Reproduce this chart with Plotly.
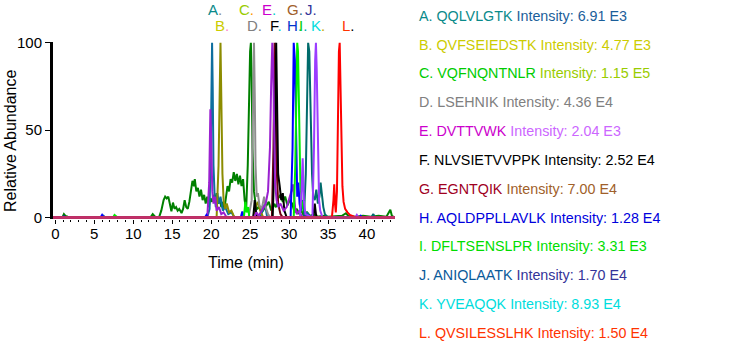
import plotly.graph_objects as go

# ---------------- data (time in min, relative abundance) ----------------
SERIES_NAMES = ["C", "A", "B", "D", "G", "F", "E", "H", "I", "J", "K", "L"]
SERIES_COLORS = {
    "A": "#0e6e9e", "B": "#8c8c00", "C": "#008000", "D": "#8f8f8f",
    "E": "#9a20d0", "F": "#000000", "G": "#6e0012", "H": "#0000ff",
    "I": "#00ee00", "J": "#006b6b", "K": "#9b3dff", "L": "#ff0000",
}
BASELINE_COLOR = "#c2306a"

C_T = [-0.3, 0.9, 1.1, 1.3, 1.6, 2.0, 12.2, 12.5, 12.8, 13.3, 13.6, 13.9, 14.1, 14.3, 14.5, 14.7, 14.9,
       15.1, 15.3, 15.5, 15.7, 15.9, 16.2, 16.4, 16.6, 16.8, 17.0, 17.2, 17.4, 17.6, 17.8, 17.9, 18.1,
       18.3, 18.5, 18.7, 18.9, 19.1, 19.3, 19.5, 19.7, 19.9, 20.1, 20.3, 20.5, 20.7, 20.9, 21.1, 21.3,
       21.5, 21.7, 21.9, 22.1, 22.3, 22.5, 22.7, 22.9, 23.1, 23.3, 23.5, 23.7, 23.9, 24.1, 24.3, 24.5,
       24.7, 24.85, 25.0, 25.1, 25.2, 25.3, 25.5, 25.7, 25.9, 26.2, 26.5, 26.8, 27.1, 27.4, 27.7, 28.0,
       28.3, 28.6, 28.9, 29.2, 29.5, 29.8, 30.1, 30.4, 30.7, 31.0, 31.3, 31.6, 31.9, 32.3, 32.7, 33.2,
       33.6, 34.5, 35.0, 36.8, 37.3, 37.6, 38.5, 39.5, 40.5, 41.5, 42.5, 43.0, 43.2, 43.6]
C_Y = [0, 0, 2, 1, 0.5, 0, 0, 2, 0.5, 0, 4, 10, 12, 11, 12, 7, 3.6,
       8.6, 5, 6, 4, 5, 2.6, 5, 10, 6, 5, 9, 14, 21, 18, 22, 15,
       17, 12, 16, 10, 13, 8, 12, 6, 11, 9, 13, 10, 14, 8, 11, 6,
       9, 5, 12, 18, 15, 22, 20, 26, 21, 25, 19, 24, 18, 22, 10, 5,
       30, 70, 95, 100, 80, 40, 15, 8, 5, 6, 3, 5, 7, 9, 4, 8,
       6, 11, 13, 9, 12, 7, 10, 8, 3, 5, 2, 4, 1, 3, 1, 2,
       0.5, 1, 0.5, 1, 2.5, 1, 0.5, 1, 0.5, 1, 0.5, 4.5, 1, 0]

A_PTS = [(-0.3, 0), (6.0, 0), (6.2, 1), (6.4, 0), (19.5, 0), (19.8, 5), (19.95, 40), (20.05, 90),
         (20.12, 100), (20.2, 75), (20.3, 30), (20.45, 12), (20.6, 6), (20.8, 14), (21.0, 8), (21.2, 12),
         (21.5, 4), (21.8, 6), (22.2, 2), (22.6, 3), (23.0, 0), (26.3, 0), (26.6, 4), (26.9, 8),
         (27.2, 0), (32.0, 0), (32.3, 3), (32.6, 1), (32.9, 0), (40.6, 0), (40.8, 2), (41.0, 0), (43.6, 0)]
B_PTS = [(-0.3, 0), (20.7, 0), (20.95, 30), (21.1, 80), (21.2, 100), (21.3, 70), (21.45, 25),
         (21.6, 10), (21.8, 5), (22.0, 8), (22.3, 3), (22.6, 4), (23.0, 0), (25.4, 0), (25.7, 6),
         (26.0, 9), (26.3, 4), (26.7, 0), (43.6, 0)]
D_PTS = [(-0.3, 0), (24.8, 0), (25.2, 10), (25.35, 60), (25.5, 100), (25.6, 70), (25.7, 30),
         (25.85, 12), (26.0, 14), (26.2, 7), (26.5, 5), (26.8, 12), (27.0, 6), (27.3, 2), (27.6, 0), (43.6, 0)]
E_PTS = [(-0.3, 0), (19.5, 0), (19.75, 20), (19.9, 62), (20.0, 45), (20.15, 15), (20.3, 8), (20.5, 12),
         (20.7, 4), (21.0, 6), (21.3, 2), (21.6, 3), (22.0, 0), (25.5, 0), (25.8, 3), (26.1, 1),
         (26.5, 4), (27.0, 8), (27.3, 15), (27.55, 40), (27.7, 75), (27.85, 100), (27.95, 90),
         (28.05, 60), (28.2, 20), (28.4, 10), (28.6, 6), (28.9, 8), (29.3, 4), (29.7, 6), (30.0, 10),
         (30.3, 15), (30.5, 19), (30.65, 12), (30.8, 5), (31.0, 2), (31.3, 4), (31.6, 1), (32.0, 0), (43.6, 0)]
F_PTS = [(-0.3, 0), (25.4, 0), (25.6, 10), (25.8, 2), (26.0, 0), (27.9, 0), (28.1, 30), (28.25, 90),
         (28.35, 100), (28.45, 70), (28.6, 25), (28.8, 18), (29.0, 10), (29.2, 14), (29.4, 4), (29.7, 0),
         (33.1, 0), (33.3, 8), (33.45, 2), (33.6, 0), (43.6, 0)]
G_PTS = [(-0.3, 0), (27.8, 0), (28.0, 40), (28.15, 100), (28.25, 85), (28.4, 30), (28.6, 8),
         (28.9, 2), (29.2, 0), (43.6, 0)]
H_PTS = [(-0.3, 0), (1.0, 0), (1.1, 1), (1.2, 0), (5.8, 0), (6.0, 1.5), (6.2, 0), (19.2, 0), (19.4, 1.5),
         (19.6, 0), (23.8, 0), (24.0, 3.5), (24.2, 0), (30.2, 0), (30.45, 40), (30.6, 100), (30.75, 90),
         (30.9, 40), (31.05, 12), (31.2, 20), (31.35, 8), (31.5, 4), (31.8, 10), (32.0, 2), (32.4, 0),
         (39.0, 0), (39.2, 1), (39.4, 0), (43.6, 0)]
I_PTS = [(-0.3, 0), (7.4, 0), (7.6, 1.5), (7.8, 0.5), (8.0, 0), (24.2, 0), (24.4, 9), (24.55, 3),
         (24.75, 6), (24.9, 0), (30.6, 0), (30.8, 30), (30.95, 80), (31.05, 100), (31.15, 95),
         (31.3, 50), (31.45, 20), (31.6, 10), (31.8, 4), (32.0, 0), (43.6, 0)]
J_PTS = [(-0.3, 0), (31.9, 0), (32.15, 25), (32.3, 60), (32.45, 100), (32.6, 95), (32.7, 70),
         (32.8, 40), (32.95, 25), (33.1, 12), (33.3, 10), (33.5, 16), (33.7, 8), (33.9, 12),
         (34.05, 20), (34.2, 14), (34.4, 6), (34.6, 2), (35.0, 0), (40.6, 0), (40.8, 2), (41.0, 0), (43.6, 0)]
K_PTS = [(-0.3, 0), (31.4, 0), (31.6, 15), (31.75, 34), (31.9, 10), (32.1, 2), (33.0, 0), (33.2, 40),
         (33.35, 90), (33.45, 100), (33.55, 85), (33.7, 35), (33.85, 10), (34.0, 4), (34.3, 0),
         (38.5, 0), (38.7, 1.5), (38.9, 0), (43.6, 0)]
L_PTS = [(-0.3, 0), (35.5, 0), (35.7, 10), (35.8, 19), (35.9, 8), (36.0, 3), (36.15, 15), (36.3, 70),
         (36.4, 95), (36.5, 100), (36.6, 80), (36.7, 45), (36.85, 18), (37.0, 9), (37.2, 5), (37.5, 3),
         (37.8, 1.5), (38.2, 0.8), (38.6, 0), (43.6, 0)]

# Peak labels above the plot: (letter, letter colour, dot colour, row, left pixel)
PEAK_LABELS = [
    ("A", "#0a8a8a", "#8a8a8a", 0, 206), ("C", "#99cc00", "#ff9900", 0, 237),
    ("E", "#cc00cc", "#00cccc", 0, 260), ("G", "#a0602a", "#2a6a8a", 0, 285),
    ("J", "#333399", "#333399", 0, 303),
    ("B", "#cccc00", "#ff88cc", 1, 213), ("D", "#808080", "#808080", 1, 245),
    ("F", "#000000", "#00cccc", 1, 268), ("H", "#0033cc", "#00cccc", 1, 285),
    ("I", "#00cc00", "#00aaaa", 1, 297), ("K", "#00dddd", "#ccaa00", 1, 309),
    ("L", "#ff3300", "#000000", 1, 340),
]

# Side legend: (letter, peptide, intensity, peptide colour, intensity colour)
LEGEND_ROWS = [
    ("A", "QQLVLGTK", "6.91 E3", "#0a8a8a", "#1a5e9a"),
    ("B", "QVFSEIEDSTK", "4.77 E3", "#cccc00", "#cccc00"),
    ("C", "VQFNQNTNLR", "1.15 E5", "#00cc00", "#99cc00"),
    ("D", "LSEHNIK", "4.36 E4", "#808080", "#808080"),
    ("E", "DVTTVWK", "2.04 E3", "#cc00cc", "#cc66ff"),
    ("F", "NLVSIETVVPPK", "2.52 E4", "#000000", "#000000"),
    ("G", "EGNTQIK", "7.00 E4", "#a0001e", "#a0602a"),
    ("H", "AQLDPPLLAVLK", "1.28 E4", "#0000dd", "#0000dd"),
    ("I", "DFLTSENSLPR", "3.31 E3", "#00dd00", "#00dd00"),
    ("J", "ANIQLAATK", "1.70 E4", "#0a5a9a", "#333399"),
    ("K", "YVEAQQK", "8.93 E4", "#00dddd", "#00dddd"),
    ("L", "QVSILESSLHK", "1.50 E4", "#ff3300", "#ff3300"),
]

X_TICKS = [0, 5, 10, 15, 20, 25, 30, 35, 40]
Y_TICKS = [0, 50, 100]

# ---------------- layout geometry ----------------
W, H = 743, 351
PL, PR, PT, PB = 53, 395, 42, 219  # plot area in pixels
FONT = "Arial, 'Liberation Sans', sans-serif"


def px(x):
    return (x - PL) / (PR - PL)


def py(y):
    return (PB - y) / (PB - PT)


series = {"C": list(zip(C_T, C_Y)), "A": A_PTS, "B": B_PTS, "D": D_PTS, "E": E_PTS, "F": F_PTS,
          "G": G_PTS, "H": H_PTS, "I": I_PTS, "J": J_PTS, "K": K_PTS, "L": L_PTS}

fig = go.Figure()
for name in SERIES_NAMES:
    pts = series[name]
    fig.add_trace(go.Scatter(
        x=[p[0] for p in pts], y=[p[1] for p in pts], mode="lines",
        line=dict(color=SERIES_COLORS[name], width=2), hoverinfo="skip", showlegend=False))

fig.add_trace(go.Scatter(x=[-0.3, 43.6], y=[0, 0], mode="lines",
                         line=dict(color=BASELINE_COLOR, width=2.5), hoverinfo="skip", showlegend=False))

annotations = []
for letter, lc, dc, row, left in PEAK_LABELS:
    annotations.append(dict(
        xref="paper", yref="paper", x=px(left), y=py(9 if row == 0 else 25.5),
        xanchor="left", yanchor="middle", showarrow=False,
        text=f'<span style="color:{lc}">{letter}</span><span style="color:{dc}">.</span>',
        font=dict(family=FONT, size=15)))

for i, (letter, pep, inten, pc, ic) in enumerate(LEGEND_ROWS):
    annotations.append(dict(
        xref="paper", yref="paper", x=px(417), y=py(15.7 + i * 28.84),
        xanchor="left", yanchor="middle", showarrow=False,
        text=f'<span style="color:{pc}">{letter}. {pep}</span> <span style="color:{ic}">Intensity: {inten}</span>',
        font=dict(family=FONT, size=14.3)))

annotations.append(dict(xref="paper", yref="paper", x=px(246), y=py(262), xanchor="center",
                        yanchor="middle", showarrow=False, text="Time (min)",
                        font=dict(family=FONT, size=16, color="#000")))
annotations.append(dict(xref="paper", yref="paper", x=px(10), y=py(141), xanchor="center",
                        yanchor="middle", showarrow=False, text="Relative Abundance", textangle=-90,
                        font=dict(family=FONT, size=16, color="#000")))

fig.update_layout(
    width=W, height=H, margin=dict(l=PL, r=W - PR, t=PT, b=H - PB),
    paper_bgcolor="white", plot_bgcolor="white", showlegend=False,
    annotations=annotations,
    xaxis=dict(range=[-0.3, 43.6], tickvals=X_TICKS, ticks="outside", ticklen=4, tickwidth=1,
               tickcolor="#000", showline=False, showgrid=False, zeroline=False,
               ticklabelstandoff=-3,
               tickfont=dict(family=FONT, size=15, color="#000"),
               minor=dict(dtick=1, tick0=0, ticks="outside", ticklen=2, tickcolor="#000", showgrid=False)),
    yaxis=dict(range=[-0.8, 100.5], tickvals=Y_TICKS, ticks="outside", ticklen=5, tickwidth=1,
               tickcolor="#000", showline=True, linecolor="#000", linewidth=3, showgrid=False,
               zeroline=False, tickfont=dict(family=FONT, size=15, color="#000")),
)

fig.write_html("out.html")
